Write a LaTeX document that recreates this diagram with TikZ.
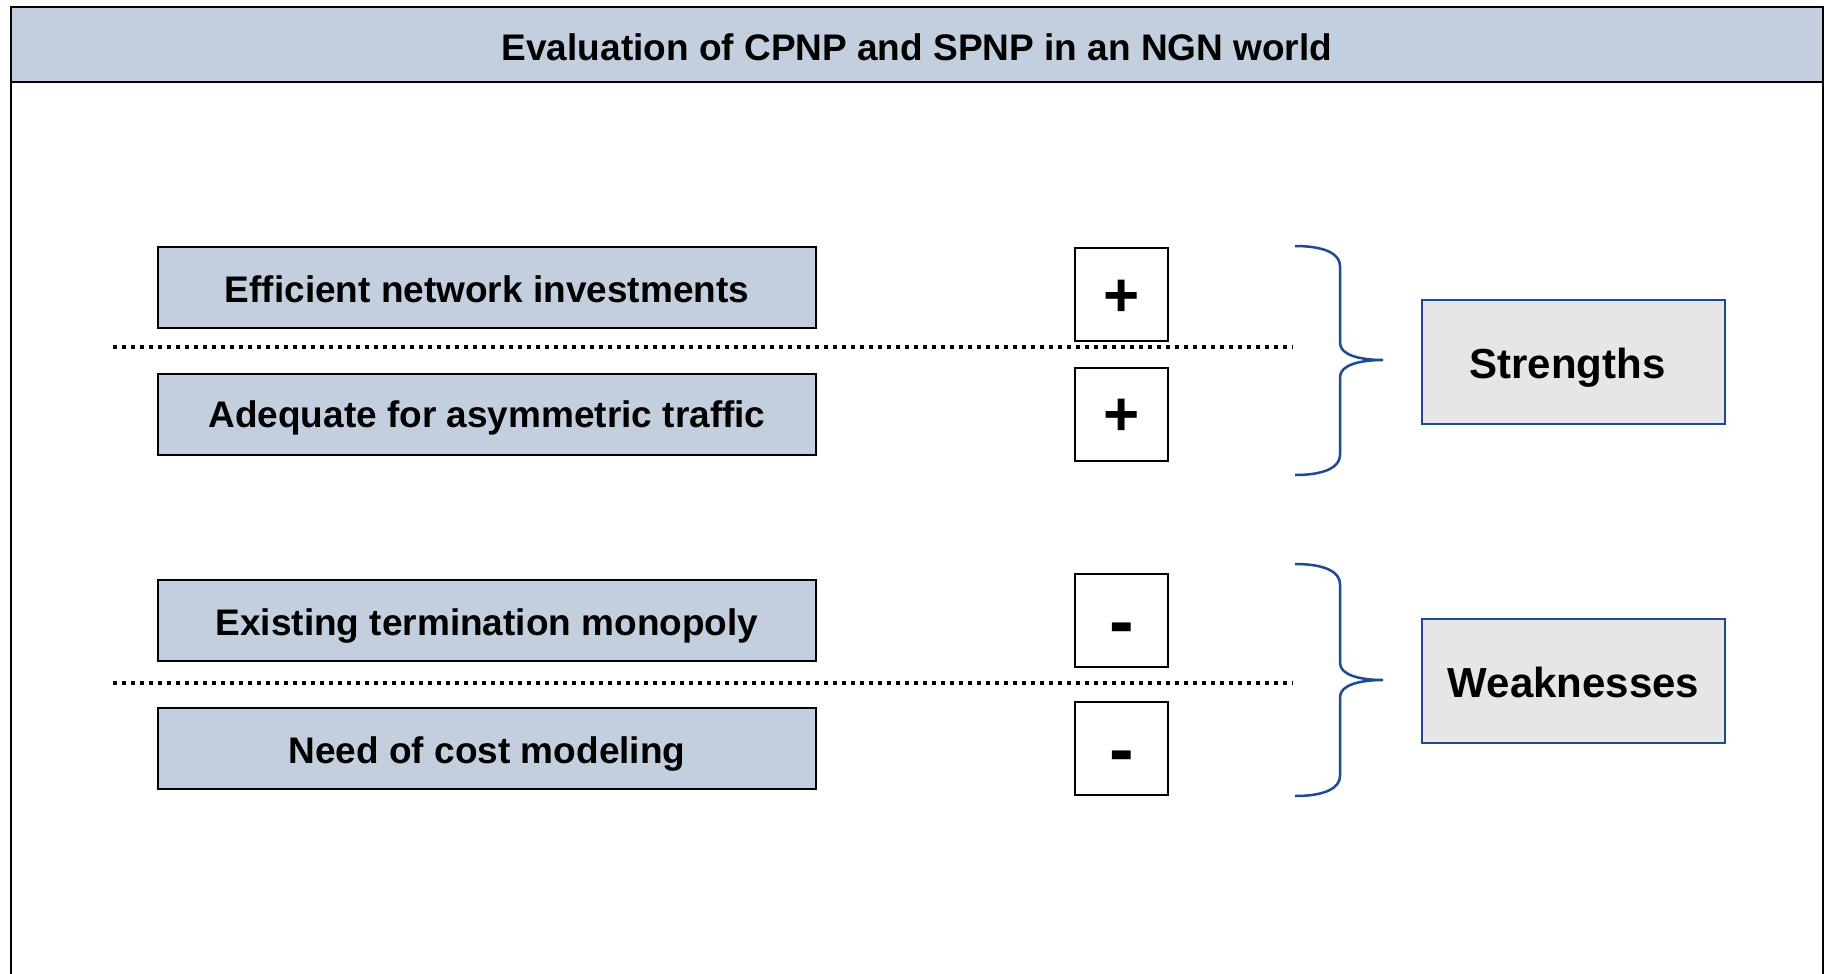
\documentclass[tikz,border=0pt]{standalone}
\usepackage{fontspec}
\setmainfont{Liberation Sans}
\definecolor{headfill}{HTML}{C3CEDF}
\definecolor{tagfill}{HTML}{E6E6E6}
\definecolor{bracecol}{RGB}{31,73,145}
\begin{document}
\begin{tikzpicture}[x=1pt,y=-1pt,
  itembox/.style={draw=black, line width=2pt, fill=headfill,
    minimum width=658pt, minimum height=81pt, inner sep=0pt,
    text height=29pt, text depth=0pt,
    font=\fontsize{37}{44}\selectfont\bfseries},
  signbox/.style={draw=black, line width=2pt, fill=white,
    minimum width=93pt, minimum height=93pt, inner sep=0pt, text depth=0pt},
  plussign/.style={signbox, font=\fontsize{62}{70}\selectfont\bfseries, text height=43pt},
  minussign/.style={signbox, font=\fontsize{74}{80}\selectfont\bfseries, text height=53pt},
  tagbox/.style={draw=bracecol, line width=2pt, fill=tagfill,
    minimum width=303pt, minimum height=124pt, inner sep=0pt,
    text height=32pt, text depth=0pt,
    font=\fontsize{42}{50}\selectfont\bfseries},
  divider/.style={line width=3.5pt, dash pattern=on 4pt off 5pt},
  bracestroke/.style={draw=bracecol, line width=2.5pt}]

\useasboundingbox (0,0) rectangle (1825,974);
\fill[white] (0,0) rectangle (1825,974);

% title band and outer frame
\fill[headfill] (11,7) rectangle (1823,82);
\draw[line width=2.5pt] (11,974) -- (11,7) -- (1823,7) -- (1823,974);
\draw[line width=2.5pt] (11,82) -- (1823,82);
\node[font=\fontsize{37}{44}\selectfont\bfseries, text height=31pt, text depth=0pt,
  inner sep=0pt] (title) at (917,45)
  {Evaluation of CPNP and SPNP in an NGN world};

% criteria
\node[itembox] (eff)  at (487,287.5) {Efficient network investments};
\node[itembox, text height=26.5pt] (asym) at (487,414) {Adequate for asymmetric traffic};
\node[itembox] (mono) at (487,620.5) {Existing termination monopoly};
\node[itembox] (cost) at (487,748.5) {Need of cost modeling};

% ratings
\node[plussign]  (p1) at (1121.5,294.5) {+};
\node[plussign]  (p2) at (1121.5,414)   {+};
\node[minussign] (m1) at (1121.5,620)   {-};
\node[minussign] (m2) at (1121.5,748)   {-};

% dotted separators
\coordinate (d1a) at (113,347);  \coordinate (d1b) at (1293,347);
\coordinate (d2a) at (113,683);  \coordinate (d2b) at (1293,683);
\draw[divider] (d1a) -- (d1b);
\draw[divider] (d2a) -- (d2b);

% braces
\draw[bracestroke] (1295,246) .. controls (1325,246) and (1340,254) .. (1340,266)
  -- (1340,343) .. controls (1340,355) and (1360,360) .. (1383,360)
  .. controls (1360,360) and (1340,365) .. (1340,377)
  -- (1340,455) .. controls (1340,467) and (1325,475) .. (1295,475);
\draw[bracestroke] (1295,564) .. controls (1325,564) and (1340,572) .. (1340,584)
  -- (1340,663) .. controls (1340,675) and (1360,680) .. (1383,680)
  .. controls (1360,680) and (1340,685) .. (1340,697)
  -- (1340,776) .. controls (1340,788) and (1325,796) .. (1295,796);

% summary tags
\node[tagbox] (str)  at (1573.5,362) {\hspace*{-12pt}Strengths};
\node[tagbox] (weak) at (1573.5,681) {Weaknesses};
\end{tikzpicture}
\end{document}
